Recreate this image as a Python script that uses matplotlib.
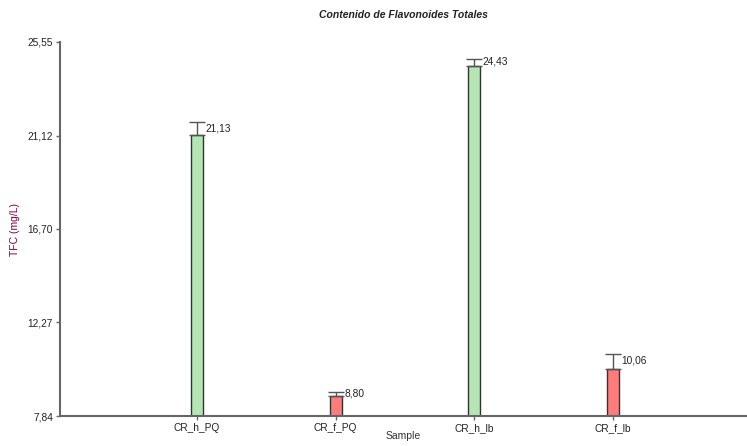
import matplotlib.pyplot as plt
from matplotlib.ticker import FixedLocator, FuncFormatter

# Total flavonoid content per sample
samples = ["CR_h_PQ", "CR_f_PQ", "CR_h_lb", "CR_f_lb"]
tfc = [21.13, 8.80, 24.43, 10.06]
tfc_err = [0.63, 0.20, 0.32, 0.72]
bar_colors = ["#b3e6b3", "#ff7c7c", "#b3e6b3", "#ff7c7c"]
yticks = [7.84, 12.27, 16.70, 21.12, 25.55]

plt.rcParams["font.family"] = ["Liberation Sans", "DejaVu Sans"]
plt.rcParams["font.size"] = 7

fig = plt.figure(figsize=(7.47, 4.46), dpi=100)
ax = fig.add_axes([60 / 747, 30 / 446, 687 / 747, 374 / 446])

x = list(range(len(samples)))
width = 0.087
ax.bar(x, tfc, width=width, color=bar_colors, edgecolor="#333333",
       linewidth=1.0, zorder=2)
ax.errorbar(x, tfc, yerr=[[0] * len(tfc), tfc_err], fmt="none",
            ecolor="#555555", elinewidth=1.0, capsize=6, capthick=1.0, zorder=3)

for xi, v, e in zip(x, tfc, tfc_err):
    ax.text(xi + width / 2 + 0.02, v + e * 0.55, f"{v:.2f}".replace(".", ","),
            ha="left", va="center", fontsize=7.3, color="#222222")

ax.set_xlim(-0.99, 3.97)
ax.set_ylim(yticks[0], yticks[-1])
ax.yaxis.set_major_locator(FixedLocator(yticks))
ax.yaxis.set_major_formatter(FuncFormatter(lambda v, p: f"{v:.2f}".replace(".", ",")))
ax.set_xticks(x)
ax.set_xticklabels(samples)

for side in ["top", "right"]:
    ax.spines[side].set_visible(False)
for side in ["left", "bottom"]:
    ax.spines[side].set_color("#666666")
    ax.spines[side].set_linewidth(1.5)
ax.tick_params(axis="both", colors="#666666", labelcolor="#222222",
               length=3, width=1, labelsize=7.3, pad=2)

ax.set_title("Contenido de Flavonoides Totales", fontsize=7.5,
             fontweight="bold", fontstyle="italic", pad=17, color="#222222")
ax.set_ylabel("TFC (mg/L)", color="#800040", fontsize=7.5)
ax.yaxis.set_label_coords(-0.058, 0.5)
ax.set_xlabel("Sample", color="#333333", fontsize=7.5)
ax.xaxis.set_label_coords(0.5, -0.04)

fig.savefig("out.png", dpi=100)
